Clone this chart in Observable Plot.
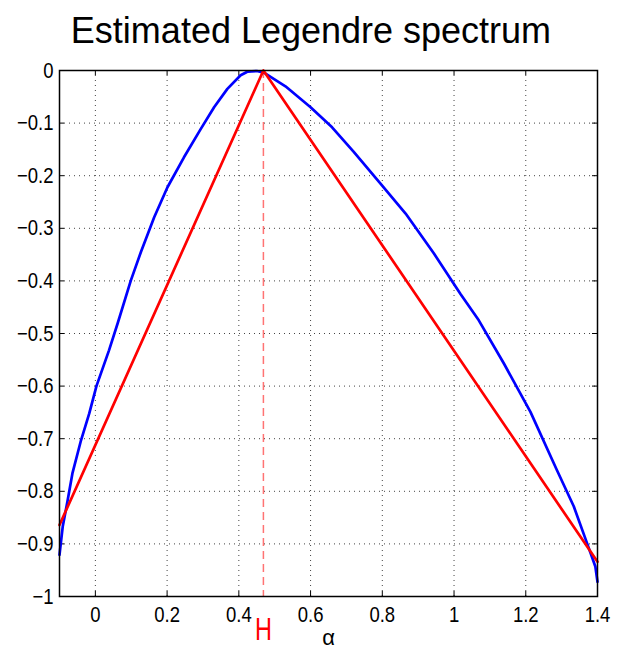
<!DOCTYPE html>
<html>
<head>
<meta charset="utf-8">
<script src="https://cdn.jsdelivr.net/npm/d3@7"></script>
<script src="https://cdn.jsdelivr.net/npm/@observablehq/plot@0.6"></script>
<style>
  html, body { margin: 0; padding: 0; background: #fff; }
  #title { box-sizing: border-box; height: 56px; padding-top: 10px; padding-right: 5px; width: 627px;
    font: 36px "Liberation Sans", Arial, sans-serif; line-height: 41px; text-align: center; color: #000; }
  svg { display: block; overflow: visible; }
</style>
</head>
<body>
<div id="title"></div>
<div id="chart"></div>
<script>
const titleText = "Estimated Legendre spectrum";
const xLabelText = "α";
const hLabelText = "H";

// Estimated spectrum (blue)
const blueAlpha = [-0.1, -0.091, -0.078, -0.064, -0.04, -0.017, 0.003, 0.038, 0.062, 0.099, 0.127, 0.164, 0.201, 0.247, 0.294, 0.331, 0.368, 0.405, 0.425, 0.45, 0.47, 0.53, 0.6, 0.66, 0.721, 0.795, 0.865, 0.944, 1.018, 1.069, 1.139, 1.213, 1.287, 1.334, 1.371, 1.394, 1.4];
const blueF     = [-0.921, -0.867, -0.82, -0.766, -0.703, -0.652, -0.6, -0.532, -0.481, -0.399, -0.345, -0.279, -0.222, -0.165, -0.111, -0.07, -0.035, -0.009, -0.002, -0.001, -0.004, -0.03, -0.07, -0.108, -0.155, -0.215, -0.272, -0.348, -0.425, -0.475, -0.557, -0.649, -0.76, -0.829, -0.899, -0.943, -0.972];

// Theoretical spectrum (red)
const redAlpha = [-0.1, 0.4685, 1.4];
const redF     = [-0.864, 0, -0.934];

// H marker
const hValue = 0.4685;

// Ticks
const xTicks = [0, 0.2, 0.4, 0.6, 0.8, 1, 1.2, 1.4];
const xTickLabels = ["0", "0.2", "0.4", "0.6", "0.8", "1", "1.2", "1.4"];
const yTicks = [-1, -0.9, -0.8, -0.7, -0.6, -0.5, -0.4, -0.3, -0.2, -0.1, 0];
const yTickLabels = ["\u22121", "\u22120.9", "\u22120.8", "\u22120.7", "\u22120.6", "\u22120.5", "\u22120.4", "\u22120.3", "\u22120.2", "\u22120.1", "0"];
const xDomain = [-0.1, 1.4];
const yDomain = [-1, 0];

document.getElementById("title").textContent = titleText;

const blue = blueAlpha.map((a, i) => ({a, f: blueF[i]}));
const red = redAlpha.map((a, i) => ({a, f: redF[i]}));
const lookup = (ticks, labels) => d => labels[ticks.findIndex(t => Math.abs(t - d) < 1e-9)];

const W = 627, H = 592;
const mL = 59, mR = 30, mT = 14, mB = 52;
const ph = H - mT - mB, pw = W - mL - mR;
const font = "'Liberation Sans', Arial, sans-serif";
const gridStyle = {stroke: "#444", strokeOpacity: 1, strokeWidth: 1, strokeDasharray: "1,4"};

const chart = Plot.plot({
  width: W, height: H,
  marginLeft: mL, marginRight: mR, marginTop: mT, marginBottom: mB,
  style: {fontFamily: font, background: "#fff", color: "#000", overflow: "visible"},
  x: {domain: xDomain, label: null},
  y: {domain: yDomain, label: null},
  marks: [
    Plot.gridX(xTicks, gridStyle),
    Plot.gridY(yTicks, gridStyle),
    Plot.axisX(xTicks, {tickSize: 0, tickPadding: 10, fontSize: 18.5, tickFormat: lookup(xTicks, xTickLabels), fill: "#000", className: "stretch"}),
    Plot.axisY(yTicks, {tickSize: 0, tickPadding: 6, fontSize: 18.5, tickFormat: lookup(yTicks, yTickLabels), fill: "#000", className: "stretch"}),
    // inward ticks on all sides
    Plot.tickX(xTicks, {x: d => d, insetTop: ph - 5, stroke: "#000", strokeWidth: 1}),
    Plot.tickX(xTicks, {x: d => d, insetBottom: ph - 5, stroke: "#000", strokeWidth: 1}),
    Plot.tickY(yTicks, {y: d => d, insetRight: pw - 5, stroke: "#000", strokeWidth: 1}),
    Plot.tickY(yTicks, {y: d => d, insetLeft: pw - 5, stroke: "#000", strokeWidth: 1}),
    Plot.ruleX([hValue], {x: d => d, stroke: "#ff0000", strokeOpacity: 0.55, strokeWidth: 1.5, strokeDasharray: "8,5"}),
    Plot.line(blue, {x: "a", y: "f", stroke: "#0000ff", strokeWidth: 2.7}),
    Plot.line(red, {x: "a", y: "f", stroke: "#ff0000", strokeWidth: 2.7}),
    Plot.frame({stroke: "#000", strokeWidth: 1.5}),
    Plot.text([hValue], {x: d => d, frameAnchor: "bottom", lineAnchor: "bottom", dy: 43, text: () => hLabelText, fill: "#ff0000", fontSize: 23.5, className: "stretchH"}),
    Plot.text([xLabelText], {frameAnchor: "bottom", lineAnchor: "bottom", dy: 48, text: d => d, fill: "#000", fontSize: 22})
  ]
});

// vertically stretch tick labels and H (matching the reference's tall glyphs)
function stretch(sel, s) {
  chart.querySelectorAll(sel).forEach(t => {
    const tr = t.getAttribute("transform");
    if (tr) {
      t.setAttribute("transform", tr + ` scale(1,${s})`);
    } else {
      const y = +(t.getAttribute("y") || 0);
      t.setAttribute("transform", `translate(0,${y}) scale(1,${s}) translate(0,${-y})`);
    }
  });
}
stretch(".stretch text", 1.2);
stretch(".stretchH text", 1.3);
document.getElementById("chart").appendChild(chart);
</script>
</body>
</html>
